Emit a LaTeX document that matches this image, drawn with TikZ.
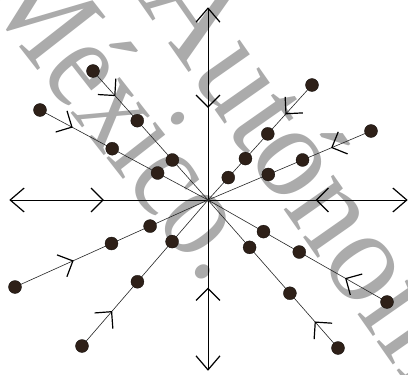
\documentclass[tikz,border=0pt]{standalone}
\usepackage{fontspec}
\newfontfamily\wmfont{Liberation Serif}
\usetikzlibrary{decorations.markings,calc}
\definecolor{dotc}{HTML}{2E2018}
\definecolor{wmgray}{HTML}{ABABAB}
\newcommand{\mychevf}{\draw[chev] (-12pt,12pt)--(0pt,0pt)--(-12pt,-12pt);}
\newcommand{\mychevb}{\draw[chev] (12pt,12pt)--(0pt,0pt)--(12pt,-12pt);}
\newcommand{\mychevend}{\draw[chev] (-14pt,12pt)--(0pt,0pt)--(-14pt,-12pt);}
\begin{document}
\begin{tikzpicture}[x=1pt,y=-1pt,
  chev/.style={line width=1.2pt,black,line cap=butt},
  dot/.style={circle,fill=dotc,draw=black!70!dotc,line width=0.3pt,minimum size=13pt,inner sep=0pt},
  traj/.style={line width=0.6pt,draw=black!85},
  axisline/.style={line width=1pt,draw=black},
  axisarr/.style={postaction=decorate,decoration={markings,
     mark=at position 0.999 with {\mychevend},
     mark=at position #1 with {\mychevb}}},
  trajarr/.style={postaction=decorate,decoration={markings,
     mark=at position #1 with {\mychevf}}},
  wm/.style={text=wmgray,font=\wmfont\fontsize{132}{132}\selectfont,inner sep=0pt,anchor=base west}
]
\useasboundingbox (0,0) rectangle (408,375);
\fill[white] (0,0) rectangle (408,375);
% watermark (behind)
\node[wm,rotate=-52,xscale=0.85] (wmA) at (-21.6,-5.3) {México.};
\node[wm,rotate=-55,xscale=0.97] (wmB) at (135.9,-2.3) {Autónoma};
\coordinate (O) at (208,200);
\coordinate (L) at (10,200);
\coordinate (R) at (407,200);
\coordinate (T) at (208,8);
\coordinate (B) at (208,370);
\coordinate (e1) at (93,71);
\coordinate (e2) at (40,110);
\coordinate (e3) at (312,85);
\coordinate (e4) at (371,131);
\coordinate (e5) at (15,287);
\coordinate (e6) at (82,346);
\coordinate (e7) at (387,302);
\coordinate (e8) at (338,348);
% axes
\draw[axisline,axisarr=0.53] (O) -- (L);
\draw[axisline,axisarr=0.545] (O) -- (R);
\draw[axisline,axisarr=0.484] (O) -- (T);
\draw[axisline,axisarr=0.52] (O) -- (B);
% trajectories
\draw[traj,trajarr=0.19] (e1) -- (O);
\draw[traj,trajarr=0.19] (e2) -- (O);
\draw[traj,trajarr=0.25] (e3) -- (O);
\draw[traj,trajarr=0.24] (e4) -- (O);
\draw[traj,trajarr=0.30] (e5) -- (O);
\draw[traj,trajarr=0.235] (e6) -- (O);
\draw[traj,trajarr=0.23] (e7) -- (O);
\draw[traj,trajarr=0.175] (e8) -- (O);
% dots
\node[dot] (n1) at (e1) {};
\node[dot] (n1a) at ($(O)!0.615!(e1)$) {};
\node[dot] (n1b) at ($(O)!0.31!(e1)$) {};
\node[dot] (n2) at (e2) {};
\node[dot] (n2a) at ($(O)!0.57!(e2)$) {};
\node[dot] (n2b) at ($(O)!0.30!(e2)$) {};
\node[dot] (n3) at (e3) {};
\node[dot] (n3a) at ($(O)!0.575!(e3)$) {};
\node[dot] (n3b) at ($(O)!0.36!(e3)$) {};
\node[dot] (n3c) at ($(O)!0.195!(e3)$) {};
\node[dot] (n4) at (e4) {};
\node[dot] (n4a) at ($(O)!0.58!(e4)$) {};
\node[dot] (n4b) at ($(O)!0.37!(e4)$) {};
\node[dot] (n5) at (e5) {};
\node[dot] (n5a) at ($(O)!0.5!(e5)$) {};
\node[dot] (n5b) at ($(O)!0.3!(e5)$) {};
\node[dot] (n6) at (e6) {};
\node[dot] (n6a) at ($(O)!0.56!(e6)$) {};
\node[dot] (n6b) at ($(O)!0.285!(e6)$) {};
\node[dot] (n7) at (e7) {};
\node[dot] (n7a) at ($(O)!0.51!(e7)$) {};
\node[dot] (n7b) at ($(O)!0.31!(e7)$) {};
\node[dot] (n8) at (e8) {};
\node[dot] (n8a) at ($(O)!0.63!(e8)$) {};
\node[dot] (n8b) at ($(O)!0.32!(e8)$) {};
\end{tikzpicture}
\end{document}
